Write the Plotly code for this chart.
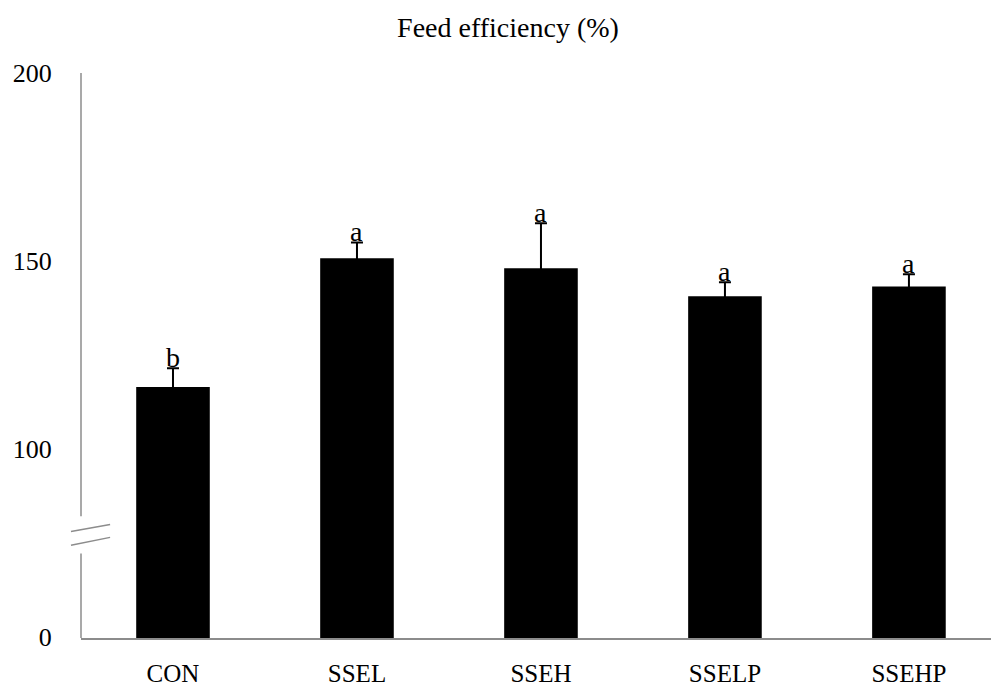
import plotly.graph_objects as go

# Feed efficiency by treatment group
groups = ["CON", "SSEL", "SSEH", "SSELP", "SSEHP"]
efficiency = [116.4, 150.7, 148.0, 140.6, 143.2]
efficiency_se = [5.0, 4.2, 12.0, 3.7, 3.2]
letters = ["b", "a", "a", "a", "a"]

# y axis: shown as broken, lower segment labelled 0
y_tick_vals = [50, 100, 150, 200]
y_tick_text = ["0", "100", "150", "200"]
y_min, y_max = 49.6, 200
break_lo, break_hi = 72.1, 82.0

SERIF = "'Liberation Serif', 'Times New Roman', Times, serif"
AXIS_GREY = "#8c8c8c"

# upper-only error bars; the lower cap is tucked just inside the bar
cap_inside = 0.8

fig = go.Figure()
fig.add_trace(go.Bar(
    x=groups,
    y=efficiency,
    width=0.4,
    marker=dict(color="black", line=dict(width=0)),
    error_y=dict(
        type="data",
        symmetric=False,
        array=efficiency_se,
        arrayminus=[cap_inside] * len(efficiency_se),
        color="black",
        thickness=2,
        width=6,
    ),
    showlegend=False,
))

# significance letters above the error bars
for g, v, e, lab in zip(groups, efficiency, efficiency_se, letters):
    fig.add_annotation(
        x=g, y=v + e, text=lab, showarrow=False,
        yanchor="bottom", yshift=-7,
        font=dict(family=SERIF, size=28, color="black"),
    )

# y axis line with a gap and break marks
fig.add_shape(type="line", xref="paper", yref="y", x0=0, x1=0,
              y0=break_hi, y1=y_max, line=dict(color=AXIS_GREY, width=1.5))
fig.add_shape(type="line", xref="paper", yref="y", x0=0, x1=0,
              y0=y_min, y1=break_lo, line=dict(color=AXIS_GREY, width=1.5))
for y0, y1 in [(77.98, 79.84), (74.27, 76.39)]:
    fig.add_shape(type="line", xref="paper", yref="y",
                  x0=-0.011, x1=0.032, y0=y0, y1=y1,
                  line=dict(color=AXIS_GREY, width=1.5))

fig.update_layout(
    width=991, height=687,
    margin=dict(l=81, r=0, t=73, b=47),
    paper_bgcolor="white", plot_bgcolor="white",
    font=dict(family=SERIF, color="black"),
    bargap=0.6,
    title=dict(
        text="Feed efficiency (%)",
        x=0.5126, xref="container", xanchor="center",
        y=1 - 27 / 687, yref="container", yanchor="middle",
        font=dict(family=SERIF, size=28, color="black"),
    ),
    xaxis=dict(
        type="category",
        range=[-0.5, 4.446],
        showline=True, linecolor=AXIS_GREY, linewidth=1.5,
        showgrid=False, zeroline=False,
        ticks="outside", ticklen=12, tickcolor="rgba(0,0,0,0)",
        tickfont=dict(family=SERIF, size=25, color="black"),
    ),
    yaxis=dict(
        range=[y_min, y_max],
        tickvals=y_tick_vals, ticktext=y_tick_text,
        showline=False, showgrid=False, zeroline=False,
        ticks="outside", ticklen=23, tickcolor="rgba(0,0,0,0)",
        tickfont=dict(family=SERIF, size=26, color="black"),
    ),
)

fig.write_html("out.html")
